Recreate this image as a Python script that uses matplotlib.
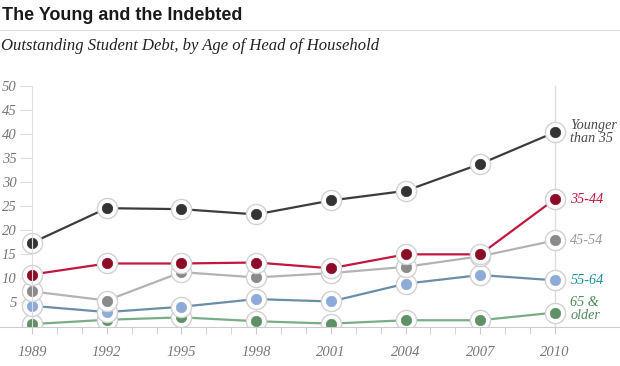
import matplotlib
matplotlib.use("Agg")
import matplotlib.pyplot as plt
from matplotlib.lines import Line2D

# data (student debt, thousands of dollars)
years = [1989, 1992, 1995, 1998, 2001, 2004, 2007, 2010]

under_35 = [17.4, 24.6, 24.4, 23.3, 26.2, 28.2, 33.8, 40.4]
age_35_44 = [10.8, 13.1, 13.1, 13.3, 12.1, 15.0, 15.0, 26.5]
age_45_54 = [7.3, 5.4, 11.3, 10.2, 11.1, 12.4, 14.6, 17.9]
age_55_64 = [4.3, 3.0, 4.1, 5.7, 5.2, 8.9, 10.7, 9.6]
age_65_up = [0.5, 1.4, 1.9, 1.1, 0.6, 1.3, 1.3, 2.9]

y_ticks = [5, 10, 15, 20, 25, 30, 35, 40, 45, 50]

# drawn bottom to top
series = [
    ("65 &\nolder", age_65_up, "#78ad87", "#5f9169", "#4d8a5c", 0.7),
    ("55-64", age_55_64, "#6b8ea6", "#8eaad6", "#1d8d9b", 0.0),
    ("45-54", age_45_54, "#b3b3b3", "#8a8a8a", "#9a9a9a", 0.0),
    ("35-44", age_35_44, "#c0183f", "#8c0b27", "#c0183f", 0.0),
    ("Younger\nthan 35", under_35, "#3c3c3c", "#333333", "#4a4a4a", 0.0),
]

serif = "Liberation Serif"
tick_grey = "#777777"

fig = plt.figure(figsize=(6.2, 3.66), dpi=100)

# axes span full width so the baseline runs edge to edge
px_per_year = (555 - 32) / 21.0
x_left = years[0] - 32 / px_per_year
x_right = years[0] + (620 - 32) / px_per_year

ax = fig.add_axes([0, (366 - 326.5) / 366, 1, (326.5 - 80) / 366])
ax.set_xlim(x_left, x_right)
ax.set_ylim(0, (326.5 - 80) / 4.81)

for name, vals, line_c, dot_c, text_c, dy in series:
    ax.plot(years, vals, color=line_c, lw=1.6, zorder=2)
    ax.plot(years, vals, ls="none", marker="o", ms=14.5, mfc="white",
            mec="#d2d2d2", mew=1.0, zorder=2)
    ax.plot(years, vals, ls="none", marker="o", ms=7.5, mfc=dot_c,
            mec=dot_c, mew=0.5, zorder=2)
    ax.text(years[-1] + 0.62, vals[-1] + dy, name, color=text_c,
            family=serif, style="italic", fontsize=10.2, va="center",
            ha="left", linespacing=1.05)

# 2010 guide line
ax.plot([years[-1], years[-1]], [0, 50], color="#dddddd", lw=1, zorder=1)

for s in ["top", "right"]:
    ax.spines[s].set_visible(False)
ax.spines["left"].set_position(("data", years[0]))
ax.spines["left"].set_bounds(0, 50)
ax.spines["left"].set_color("#dddddd")
ax.spines["bottom"].set_color("#cccccc")

ax.set_yticks(y_ticks)
ax.set_yticklabels([str(v) for v in y_ticks])
ax.set_xticks(years)
ax.set_xticklabels([str(y) for y in years])
ax.set_xticks(range(years[0], years[-1] + 1), minor=True)

ax.tick_params(axis="y", length=9, color="#dddddd", labelcolor=tick_grey,
               labelsize=10.5, pad=2)
ax.tick_params(axis="x", which="both", length=5, color="#cccccc",
               labelcolor=tick_grey, labelsize=10.5, pad=9)
for lab in ax.get_xticklabels() + ax.get_yticklabels():
    lab.set_family(serif)
    lab.set_style("italic")

# title, rule and subtitle
fig.text(0.004, 1 - 7 / 366, "The Young and the Indebted",
         family="Liberation Sans", weight="bold",
         fontsize=13, color="#1a1a1a", va="top", ha="left")
fig.add_artist(Line2D([0, 1], [1 - 30 / 366, 1 - 30 / 366],
                      color="#dddddd", lw=0.8))
fig.text(0.002, 1 - 46 / 366,
         "Outstanding Student Debt, by Age of Head of Household",
         family=serif, style="italic", fontsize=12,
         color="#222222", va="center", ha="left")

fig.savefig("out.png", dpi=100)
